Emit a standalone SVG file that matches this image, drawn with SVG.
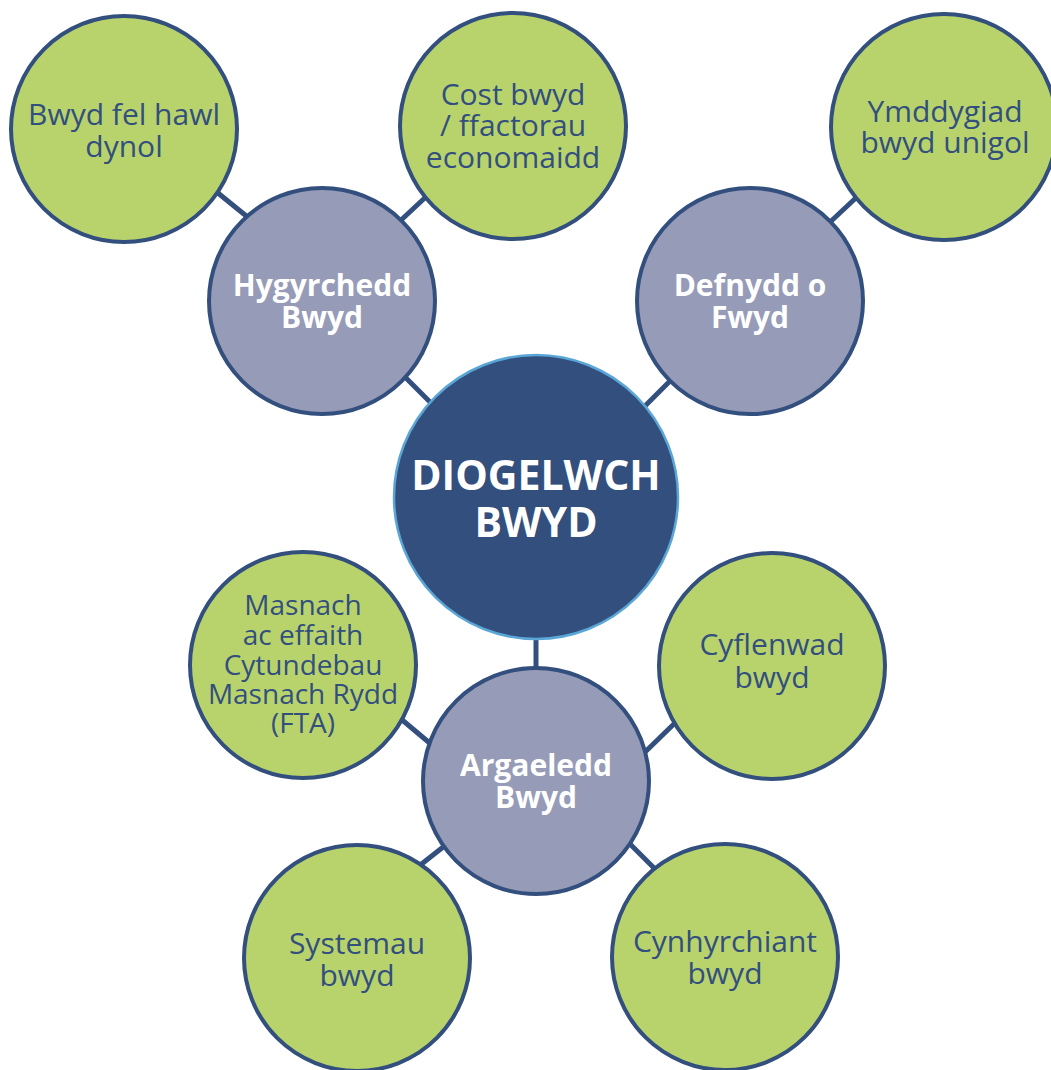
<svg xmlns="http://www.w3.org/2000/svg" width="1051" height="1070" viewBox="0 0 1051 1070">
<style>
.bg{fill:#ffffff}
.link{stroke:#324f7e;stroke-width:5;fill:none}
.leaf{fill:#b9d36c;stroke:#324f7e;stroke-width:4}
.mid{fill:#969bb8;stroke:#324f7e;stroke-width:4}
.core{fill:#324f7e;stroke:#5aa6d6;stroke-width:2.5}
.lt{font-family:"Open Sans","DejaVu Sans",sans-serif;font-size:30px;fill:#324f7e;text-anchor:middle}
.mt{font-family:"Open Sans","DejaVu Sans",sans-serif;font-size:30px;font-weight:bold;fill:#ffffff;text-anchor:middle}
.ct{font-family:"Open Sans","DejaVu Sans",sans-serif;font-size:41px;font-weight:bold;fill:#ffffff;text-anchor:middle}
.sm{font-size:28px}
</style>
<rect class="bg" x="0" y="0" width="1051" height="1070"/>
<g id="connectors">
<line class="link" x1="213" y1="189" x2="250" y2="219"/>
<line class="link" x1="429" y1="194" x2="399" y2="222"/>
<line class="link" x1="403" y1="375" x2="434" y2="406"/>
<line class="link" x1="859" y1="195" x2="828" y2="224"/>
<line class="link" x1="672" y1="379" x2="641" y2="410"/>
<line class="link" x1="536" y1="635" x2="536" y2="671"/>
<line class="link" x1="401" y1="719" x2="432" y2="745"/>
<line class="link" x1="677" y1="721" x2="643" y2="754"/>
<line class="link" x1="419" y1="866" x2="447" y2="844"/>
<line class="link" x1="627" y1="841" x2="657" y2="871"/>
</g>
<g id="node-hawl">
<circle class="leaf" cx="124" cy="129" r="113"/>
<text class="lt"><tspan x="124" y="125">Bwyd fel hawl</tspan><tspan x="124" y="157">dynol</tspan></text>
</g>
<g id="node-cost">
<circle class="leaf" cx="513" cy="126" r="113"/>
<text class="lt"><tspan x="513" y="105">Cost bwyd</tspan><tspan x="513" y="136">/ ffactorau</tspan><tspan x="513" y="168">economaidd</tspan></text>
</g>
<g id="node-ymddygiad">
<circle class="leaf" cx="944" cy="127" r="113"/>
<text class="lt"><tspan x="945" y="122">Ymddygiad</tspan><tspan x="945" y="153">bwyd unigol</tspan></text>
</g>
<g id="node-hygyrchedd">
<circle class="mid" cx="322" cy="301" r="113"/>
<text class="mt"><tspan x="322" y="296">Hygyrchedd</tspan><tspan x="322" y="328">Bwyd</tspan></text>
</g>
<g id="node-defnydd">
<circle class="mid" cx="750" cy="301" r="113"/>
<text class="mt"><tspan x="750" y="296">Defnydd o</tspan><tspan x="750" y="328">Fwyd</tspan></text>
</g>
<g id="node-diogelwch">
<circle class="core" cx="536" cy="497" r="142"/>
<text class="ct"><tspan x="536" y="490">DIOGELWCH</tspan><tspan x="536" y="537">BWYD</tspan></text>
</g>
<g id="node-masnach">
<circle class="leaf" cx="303" cy="665" r="113"/>
<text class="lt sm"><tspan x="303" y="615">Masnach</tspan><tspan x="303" y="645">ac effaith</tspan><tspan x="303" y="675">Cytundebau</tspan><tspan x="303" y="704">Masnach Rydd</tspan><tspan x="303" y="733">(FTA)</tspan></text>
</g>
<g id="node-cyflenwad">
<circle class="leaf" cx="772" cy="666" r="113"/>
<text class="lt"><tspan x="772" y="655">Cyflenwad</tspan><tspan x="772" y="688">bwyd</tspan></text>
</g>
<g id="node-argaeledd">
<circle class="mid" cx="536" cy="781" r="113"/>
<text class="mt"><tspan x="536" y="776">Argaeledd</tspan><tspan x="536" y="808">Bwyd</tspan></text>
</g>
<g id="node-systemau">
<circle class="leaf" cx="357" cy="958" r="113"/>
<text class="lt"><tspan x="357" y="954">Systemau</tspan><tspan x="357" y="986">bwyd</tspan></text>
</g>
<g id="node-cynhyrchiant">
<circle class="leaf" cx="725" cy="957" r="113"/>
<text class="lt"><tspan x="725" y="952">Cynhyrchiant</tspan><tspan x="725" y="984">bwyd</tspan></text>
</g>
</svg>
